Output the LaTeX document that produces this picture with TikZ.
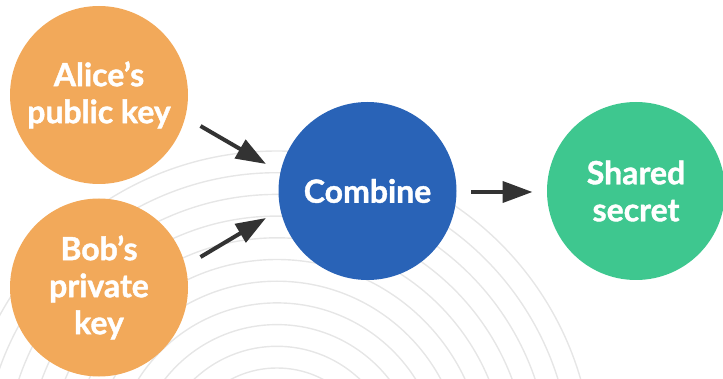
\documentclass[tikz,border=0pt]{standalone}
\usepackage{fontspec}
\setmainfont{Lato}[BoldFeatures={FakeBold=1.3}]
\usetikzlibrary{arrows.meta,calc}
\definecolor{keyorange}{HTML}{F2A95A}
\definecolor{combineblue}{HTML}{2963B7}
\definecolor{secretgreen}{HTML}{3EC78F}
\definecolor{arrowgray}{HTML}{333333}
\definecolor{ringgray}{HTML}{E6E6E6}

\begin{document}
\begin{tikzpicture}[x=1pt,y=-1pt,
  disc/.style={circle, minimum size=178pt, inner sep=0pt, text=white,
    font=\fontsize{32}{37}\selectfont\bfseries, align=center},
  flow/.style={draw=arrowgray, line width=4pt,
    -{Triangle[length=30pt,width=21pt]}},
  ring/.style={draw=ringgray, line width=1.4pt}]
\useasboundingbox (0,0) rectangle (723,379);

% concentric rings in the background
\begin{scope}
  \clip (0,0) rectangle (723,379);
  \foreach \k in {0,...,10}
    \draw[ring] (277,467) circle[radius={316-21.7*\k}];
\end{scope}

% the four discs
\node[disc, fill=keyorange]   (alice)   at (99,95)     {Alice’s\\public key};
\node[disc, fill=keyorange]   (bob)     at (99,287.5)  {Bob’s\\private\\key};
\node[disc, fill=combineblue] (combine) at (367.5,191) {Combine};
\node[disc, fill=secretgreen] (secret)  at (636,191)   {Shared\\secret};

% connectors
\draw[flow] ($(alice.center)+(101.5,31)$) -- ($(combine.center)+(-101.5,-27)$);
\draw[flow] ($(bob.center)+(101.5,-30.5)$) -- ($(combine.center)+(-101.5,27)$);
\draw[flow] ($(combine.center)+(103.5,1)$) -- ($(secret.center)+(-103.5,1)$);
\end{tikzpicture}
\end{document}
